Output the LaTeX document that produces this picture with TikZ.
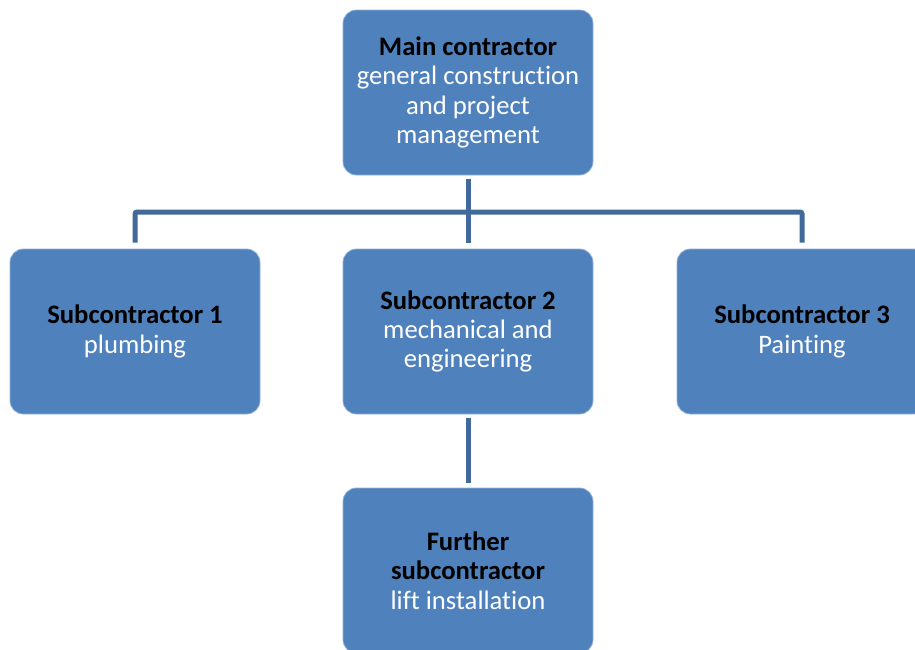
\documentclass[tikz,border=0pt]{standalone}
\usepackage{fontspec}
\setmainfont[Ligatures=NoCommon]{Carlito}
\definecolor{boxblue}{HTML}{4F81BD}
\definecolor{linkblue}{HTML}{41699A}
\begin{document}
\begin{tikzpicture}[x=0.75pt,y=-0.75pt,
  orgbox/.style={fill=boxblue, draw=boxblue!60!white, line width=0.6pt,
    rounded corners=10pt, minimum width=187.5pt, minimum height=123.75pt,
    align=center, text=white, inner sep=2pt,
    font=\fontsize{20pt}{22pt}\selectfont},
  link/.style={draw=linkblue, line width=3.75pt, rounded corners=1.5pt}]
\useasboundingbox (0,0) rectangle (915,650);
\clip (0,0) rectangle (915,650);

% boxes of the chart
\node[orgbox] (main) at (468,92.5)
  {\textcolor{black}{\textbf{Main contractor}}\\general construction\\and project\\management};
\node[orgbox] (sub1) at (135,331.5)
  {\textcolor{black}{\textbf{Subcontractor 1}}\\plumbing};
\node[orgbox] (sub2) at (468,331.5)
  {\textcolor{black}{\textbf{Subcontractor 2}}\\mechanical and\\engineering};
\node[orgbox] (sub3) at (802,331.5)
  {\textcolor{black}{\textbf{Subcontractor 3}}\\Painting};
\node[orgbox] (further) at (468,570.5)
  {\textcolor{black}{\textbf{Further}}\\\textcolor{black}{\textbf{subcontractor}}\\lift installation};

% bus line level
\coordinate (bus) at (468,212);

% connectors
\draw[link] ([yshift=-2.5pt]main.south) -- ([yshift=4.5pt]sub2.north);
\draw[link] ([yshift=4.5pt]sub1.north) |- (bus) -| ([yshift=4.5pt]sub3.north);
\draw[link] ([yshift=-2.5pt]sub2.south) -- ([yshift=3.75pt]further.north);
\end{tikzpicture}
\end{document}
